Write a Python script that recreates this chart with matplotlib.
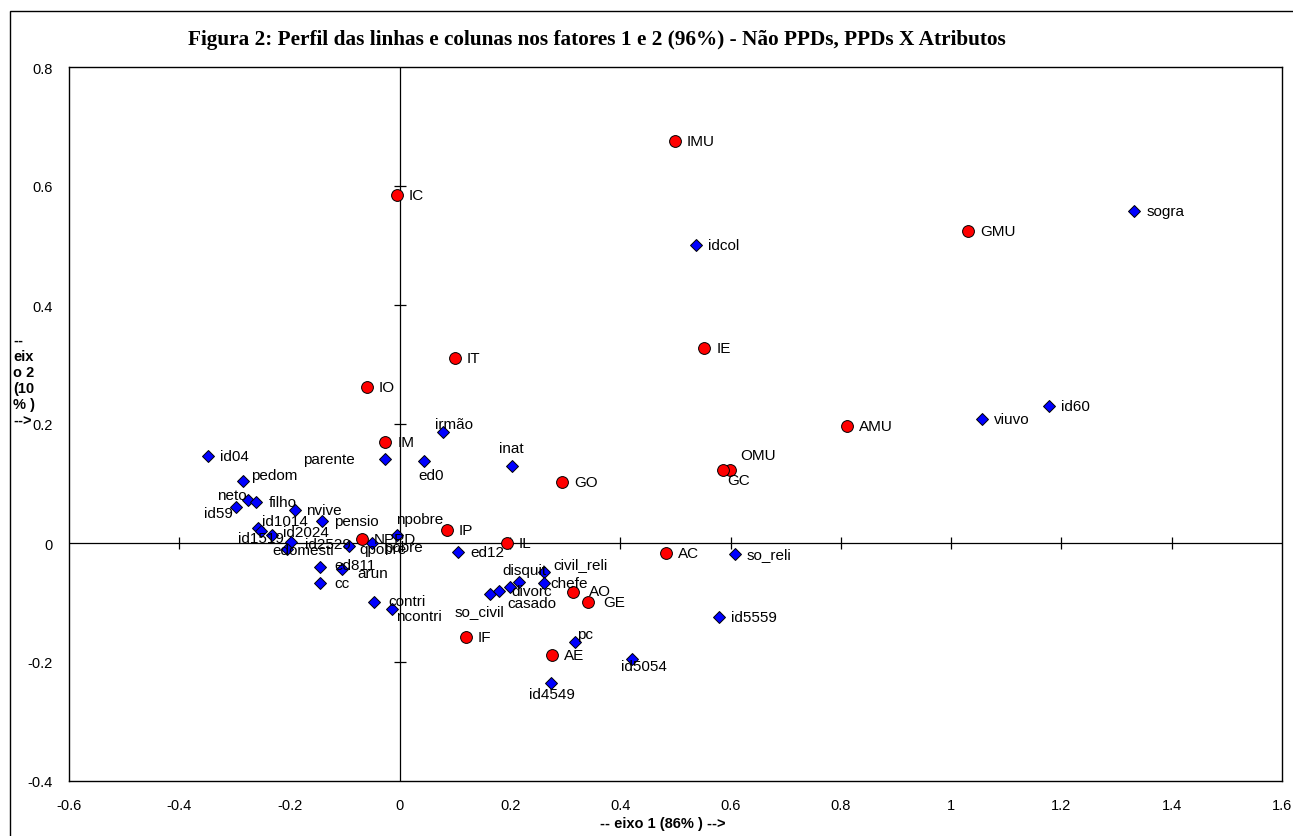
import matplotlib
matplotlib.use("Agg")
import matplotlib.pyplot as plt
from matplotlib.patches import Rectangle

plt.rcParams['font.family'] = ['Liberation Sans', 'DejaVu Sans']

# ---- data: rows (red circles) ----
row_names = ['IMU', 'IC', 'GMU', 'IE', 'IT', 'IO', 'AMU', 'IM', 'OMU', 'GC',
             'GO', 'IP', 'NPPD', 'IL', 'AC', 'AO', 'GE', 'IF', 'AE']
row_x = [0.499, -0.005, 1.031, 0.552, 0.100, -0.060, 0.811, -0.026, 0.599, 0.587,
         0.294, 0.085, -0.069, 0.194, 0.483, 0.315, 0.342, 0.120, 0.276]
row_y = [0.676, 0.585, 0.524, 0.328, 0.311, 0.262, 0.197, 0.169, 0.123, 0.122,
         0.103, 0.022, 0.007, 0.000, -0.017, -0.082, -0.099, -0.158, -0.188]

# ---- data: columns / attributes (blue diamonds) ----
col_names = ['sogra', 'idcol', 'id60', 'viuvo', 'irmão', 'id04', 'parente', 'ed0',
             'inat', 'pedom', 'neto', 'filho', 'id59', 'nvive', 'pensio', 'id1014',
             'id1519', 'id2024', 'id2529', 'edomesti', 'qpobre', 'pobre', 'npobre',
             'ed811', 'arun', 'cc', 'contri', 'ncontri', 'ed12', 'so_reli',
             'so_civil', 'casado', 'divorc', 'disquit', 'civil_reli', 'chefe',
             'id5559', 'pc', 'id5054', 'id4549']
col_x = [1.332, 0.537, 1.178, 1.056, 0.079, -0.348, -0.027, 0.044,
         0.203, -0.284, -0.276, -0.260, -0.298, -0.191, -0.141, -0.258,
         -0.252, -0.231, -0.197, -0.205, -0.092, -0.051, -0.006,
         -0.145, -0.105, -0.145, -0.046, -0.014, 0.106, 0.608,
         0.164, 0.180, 0.200, 0.216, 0.262, 0.262,
         0.578, 0.317, 0.421, 0.275]
col_y = [0.558, 0.501, 0.230, 0.208, 0.186, 0.146, 0.141, 0.137,
         0.129, 0.105, 0.073, 0.069, 0.061, 0.055, 0.037, 0.025,
         0.020, 0.013, 0.001, -0.010, -0.005, 0.000, 0.013,
         -0.040, -0.043, -0.067, -0.099, -0.111, -0.015, -0.018,
         -0.086, -0.081, -0.074, -0.066, -0.049, -0.067,
         -0.124, -0.166, -0.195, -0.235]

x_ticks = [-0.6, -0.4, -0.2, 0, 0.2, 0.4, 0.6, 0.8, 1, 1.2, 1.4, 1.6]
x_tick_labels = ['-0.6', '-0.4', '-0.2', '0', '0.2', '0.4', '0.6', '0.8', '1', '1.2', '1.4', '1.6']
y_ticks = [-0.4, -0.2, 0, 0.2, 0.4, 0.6, 0.8]
y_tick_labels = ['-0.4', '-0.2', '0', '0.2', '0.4', '0.6', '0.8']

title = 'Figura 2: Perfil das linhas e colunas nos fatores 1 e 2 (96%) - Não PPDs, PPDs X Atributos'
xlabel = '-- eixo 1 (86% ) -->'
ylabel_lines = ['--', 'eix', 'o 2', '(10', '% )', '-->']

# ---- label layout (ha, dx px, dy px downward) ----
default_pos = ('left', 12, 0)
label_pos = {
    'parente': ('right', -30, 0), 'ed0': ('center', 7, 14), 'irmão': ('left', -8, -8),
    'pedom': ('left', 8, -6), 'neto': ('right', -1, -5), 'id59': ('right', -3, 6),
    'npobre': ('left', 0, -16), 'id1014': ('left', 4, -7), 'id1519': ('center', 0, 7),
    'id2024': ('left', 11, -3), 'edomesti': ('left', -14, 1), 'id2529': ('left', 14, 2),
    'qpobre': ('left', 10, 3), 'pobre': ('left', 12, 4), 'ed811': ('left', 15, -2),
    'arun': ('left', 15, 4),
    'cc': ('left', 15, 0), 'contri': ('left', 14, -1), 'ncontri': ('left', 4, 7),
    'so_civil': ('center', -11, 17), 'casado': ('center', 33, 12), 'divorc': ('center', 22, 4),
    'disquit': ('center', 6, -12), 'civil_reli': ('left', 9, -8), 'chefe': ('left', 6, 0),
    'pc': ('left', 2, -8), 'id4549': ('center', 0, 11), 'id5054': ('center', 12, 7),
    'OMU': ('left', 10, -15), 'GC': ('left', 4, 10), 'inat': ('center', 0, -18),
    'AO': ('left', 15, -1), 'GE': ('left', 15, 0),
}

W, H = 1293, 837
fig = plt.figure(figsize=(W / 100, H / 100), dpi=100)
fig.patch.set_facecolor('white')

# outer chart-area frame (clipped at right and bottom)
fig.patches.append(Rectangle((10 / W, -0.05), 1.2, (H - 12) / H + 0.05,
                             transform=fig.transFigure, fill=False,
                             edgecolor='black', linewidth=1.0))

ax = fig.add_axes([69 / W, (H - 782) / H, (1282 - 69) / W, (782 - 68) / H])
ax.set_xlim(-0.6, 1.6)
ax.set_ylim(-0.4, 0.8)
for s in ax.spines.values():
    s.set_linewidth(1.0)
    s.set_color('black')

ax.set_xticks(x_ticks)
ax.set_xticklabels(x_tick_labels)
ax.set_yticks(y_ticks)
ax.set_yticklabels(y_tick_labels)
ax.tick_params(length=0, labelsize=10.5, pad=12)

# zero axes with crossing tick marks
ax.axhline(0, color='black', linewidth=0.9, zorder=1)
ax.axvline(0, color='black', linewidth=0.9, zorder=1)
xt_inner = [t for t in x_ticks if -0.6 < t < 1.6 and t != 0]
yt_inner = [t for t in y_ticks if -0.4 < t < 0.8 and t != 0]
ax.plot(xt_inner, [0] * len(xt_inner), ls='none',
        marker='|', ms=8, mew=0.9, color='black', zorder=1)
ax.plot([0] * len(yt_inner), yt_inner, ls='none',
        marker='_', ms=8, mew=0.9, color='black', zorder=1)

ax.plot(col_x, col_y, ls='none', marker='D', ms=6.3, mfc='#0000FF', mec='black',
        mew=0.7, zorder=3)
ax.plot(row_x, row_y, ls='none', marker='o', ms=8.5, mfc='#FF0000', mec='black',
        mew=0.7, zorder=4)

for names, xs, ys in ((col_names, col_x, col_y), (row_names, row_x, row_y)):
    for n, x, y in zip(names, xs, ys):
        ha, dx, dy = label_pos.get(n, default_pos)
        ax.annotate(n, (x, y), xytext=(dx, -dy), textcoords='offset pixels',
                    ha=ha, va='center', fontsize=11, color='black', zorder=5)

fig.text(663 / W, 1 - 824 / H, xlabel, ha='center', va='center',
         fontsize=10.5, fontweight='bold')
fig.text(13 / W, 1 - 381 / H, '\n'.join(ylabel_lines), ha='left', va='center',
         fontsize=10.5, fontweight='bold', linespacing=1.2)
fig.text(597 / W, 1 - 40 / H, title, ha='center', va='center', fontsize=15.3,
         fontweight='bold', family=['Liberation Serif', 'DejaVu Serif'])

fig.savefig('out.png', dpi=100)
